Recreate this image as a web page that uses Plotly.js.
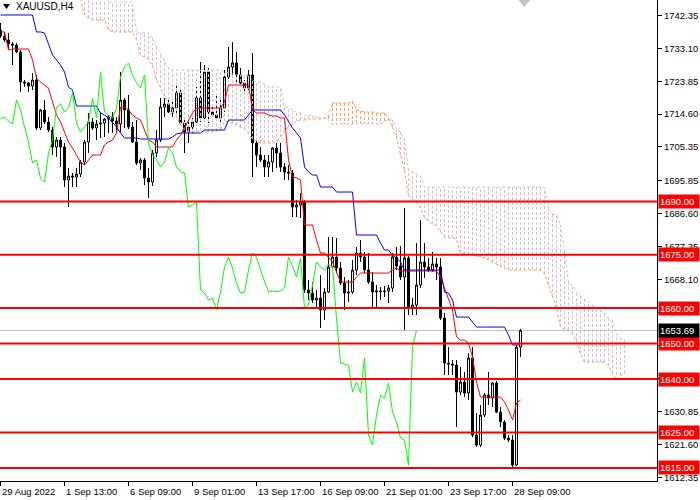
<!DOCTYPE html>
<html><head><meta charset="utf-8">
<script src="https://cdn.plot.ly/plotly-3.0.1.min.js"></script>
<style>html,body{margin:0;padding:0;background:#fff}#chart{width:700px;height:500px}</style>
</head><body><div id="chart"></div>
<script>
// ---- XAUUSD H4 candles (bar index 0 = 29 Aug 2022 21:00) ----
const opens = [
1738.26,1736.57,1735.44,1734.31,1734.03,1732.07,1723.62,1723.34,1722.49,1724.18,
1710.67,1715.74,1712.36,1710.11,1705.32,1707.29,1705.32,1696.03,1697.16,1696.88,
1697.72,1701.10,1706.73,1712.36,1710.67,1711.79,1712.07,1713.20,1713.77,1712.64,
1711.79,1718.55,1715.74,1710.95,1706.73,1700.82,1701.66,1696.60,1695.47,1703.64,
1707.29,1716.58,1717.42,1715.18,1716.30,1720.53,1712.07,1709.55,1710.95,1712.36,
1719.12,1713.49,1726.44,1715.18,1714.33,1713.49,1716.30,1725.03,1727.84,1728.97,
1725.59,1723.34,1721.93,1725.59,1706.45,1703.07,1701.66,1699.69,1701.10,1705.04,
1703.64,1699.69,1698.29,1698.01,1688.43,1688.99,1689.84,1665.07,1664.23,1662.25,
1662.81,1659.44,1664.51,1671.54,1674.36,1671.26,1667.04,1664.23,1664.51,1670.70,
1675.49,1674.36,1670.70,1667.32,1664.51,1664.79,1664.60,1664.79,1665.63,1674.36,
1671.82,1668.73,1674.07,1660.00,1660.84,1666.48,1672.95,1671.54,1670.70,1672.39,
1671.54,1657.18,1644.52,1644.23,1643.95,1636.36,1639.17,1636.08,1645.92,1624.25,
1621.44,1629.88,1635.51,1634.67,1638.89,1630.72,1627.91,1623.40,1622.84,1615.81,
1649.02];
const highs = [
1740.23,1737.70,1737.42,1734.88,1734.60,1732.63,1724.18,1723.62,1726.16,1725.59,
1716.02,1718.55,1713.77,1710.95,1708.13,1708.13,1706.45,1699.41,1698.01,1699.41,
1701.66,1707.29,1714.90,1713.49,1712.92,1715.18,1713.49,1714.33,1715.18,1713.77,
1726.44,1719.12,1719.96,1712.36,1712.92,1702.23,1702.23,1699.41,1704.48,1710.11,
1719.12,1719.12,1719.12,1717.99,1722.78,1722.21,1712.92,1712.36,1713.49,1722.21,
1729.25,1728.40,1727.56,1716.58,1720.53,1719.40,1727.00,1733.47,1734.88,1732.07,
1727.56,1724.18,1727.00,1731.79,1707.29,1705.32,1703.07,1703.07,1705.32,1706.45,
1706.45,1700.82,1700.25,1698.85,1690.40,1692.37,1690.40,1667.88,1667.32,1665.07,
1669.29,1665.63,1679.99,1679.99,1679.70,1672.95,1668.73,1667.88,1673.51,1677.16,
1679.14,1675.77,1675.49,1670.13,1666.48,1665.91,1666.20,1666.48,1675.49,1677.16,
1677.44,1688.15,1674.64,1662.81,1678.30,1684.77,1678.30,1674.07,1675.77,1674.07,
1674.07,1658.59,1649.02,1645.36,1645.36,1643.39,1641.99,1647.34,1649.02,1630.44,
1632.69,1636.08,1641.99,1639.17,1639.45,1632.12,1628.47,1624.25,1624.25,1649.59,
1654.10];
const lows = [
1736.01,1734.88,1732.63,1728.40,1731.79,1720.81,1722.21,1720.81,1721.37,1710.11,
1710.11,1711.79,1709.55,1703.07,1702.51,1699.69,1694.06,1688.43,1694.06,1694.06,
1696.88,1700.25,1703.64,1710.11,1707.29,1707.86,1708.13,1709.27,1709.27,1709.55,
1709.55,1710.67,1710.39,1706.45,1700.25,1698.85,1694.62,1690.96,1694.34,1702.51,
1706.73,1713.77,1714.90,1713.77,1714.90,1711.51,1703.64,1706.45,1709.27,1711.79,
1712.36,1712.36,1712.07,1713.77,1712.92,1712.36,1715.18,1724.46,1725.03,1723.62,
1722.78,1720.81,1721.37,1696.88,1699.69,1701.10,1696.88,1696.88,1698.29,1699.41,
1698.29,1696.03,1696.03,1685.62,1685.62,1685.34,1664.23,1662.25,1661.41,1660.28,
1654.37,1656.62,1664.23,1671.26,1669.85,1666.48,1659.44,1661.69,1663.94,1669.29,
1672.95,1669.85,1666.76,1660.00,1660.28,1662.25,1663.10,1661.41,1664.51,1670.70,
1667.88,1653.81,1658.03,1658.03,1658.03,1665.63,1668.45,1670.13,1670.13,1667.88,
1656.62,1641.14,1641.14,1641.14,1626.50,1635.51,1634.95,1634.10,1623.69,1620.87,
1620.87,1629.32,1632.69,1632.12,1630.44,1626.50,1622.84,1622.28,1614.96,1615.53,
1646.21];
const closes = [
1736.57,1735.44,1734.31,1734.03,1732.07,1723.62,1723.34,1722.49,1724.18,1710.67,
1715.74,1712.36,1710.11,1705.32,1707.29,1705.32,1696.03,1697.16,1696.88,1697.72,
1701.10,1706.73,1712.36,1710.67,1711.79,1712.07,1713.20,1713.77,1712.64,1711.79,
1718.55,1715.74,1710.95,1706.73,1700.82,1701.66,1696.60,1695.47,1703.64,1707.29,
1716.58,1717.42,1715.18,1716.30,1720.53,1712.07,1709.55,1710.95,1712.36,1719.12,
1713.49,1726.44,1715.18,1714.33,1713.49,1716.30,1725.03,1727.84,1728.97,1725.59,
1723.34,1721.93,1725.59,1706.45,1703.07,1701.66,1699.69,1701.10,1705.04,1703.64,
1699.69,1698.29,1698.01,1688.43,1688.99,1689.84,1665.07,1664.23,1662.25,1662.81,
1659.44,1664.51,1671.54,1674.36,1671.26,1667.04,1664.23,1664.51,1670.70,1675.49,
1674.36,1670.70,1667.32,1664.51,1664.79,1664.60,1664.79,1665.63,1674.36,1671.82,
1668.73,1674.07,1660.00,1660.84,1666.48,1672.95,1671.54,1670.70,1672.39,1671.54,
1657.18,1644.52,1644.23,1643.95,1636.36,1639.17,1636.08,1645.92,1624.25,1621.44,
1629.88,1635.51,1634.67,1638.89,1630.72,1627.91,1623.40,1622.84,1615.81,1649.02,
1653.69];

// ---- Ichimoku lines ----
const tenkan = [
1737.70,1737.70,1732.63,1732.91,1732.91,1732.91,1732.91,1732.91,1729.81,1724.74,
1723.62,1722.78,1721.93,1717.99,1714.33,1712.36,1709.55,1706.73,1705.04,1703.07,
1701.10,1700.25,1701.66,1703.07,1703.07,1703.07,1705.88,1706.73,1707.29,1709.27,
1716.58,1716.58,1715.74,1714.33,1713.49,1712.92,1710.11,1707.29,1706.73,1705.32,
1705.32,1705.32,1705.32,1705.32,1707.29,1708.70,1710.67,1712.92,1714.90,1716.30,
1716.30,1716.30,1716.30,1716.30,1716.30,1716.30,1717.99,1722.78,1722.78,1722.78,
1722.78,1722.78,1722.78,1715.74,1714.90,1714.90,1714.90,1714.33,1714.05,1714.05,
1713.49,1713.49,1701.66,1696.88,1696.60,1696.03,1683.36,1683.36,1683.36,1679.14,
1675.49,1675.49,1674.07,1672.95,1670.13,1667.32,1667.32,1667.32,1667.32,1668.73,
1669.85,1669.85,1669.85,1669.85,1669.85,1669.85,1669.85,1669.85,1670.70,1671.26,
1670.42,1670.42,1670.42,1670.42,1670.42,1670.42,1670.42,1670.42,1670.42,1670.42,
1668.73,1665.63,1662.25,1659.44,1651.84,1650.99,1650.99,1650.15,1646.21,1639.17,
1634.95,1634.95,1634.95,1634.95,1634.95,1634.95,1633.54,1631.29,1628.47,1633.26,
1634.10];
const kijun = [
1742.48,1742.48,1742.48,1742.48,1742.48,1742.48,1742.48,1742.48,1742.48,1737.70,
1737.70,1737.42,1734.03,1731.22,1729.81,1728.40,1726.44,1722.21,1721.37,1716.86,
1716.86,1716.86,1716.86,1716.86,1716.86,1714.90,1714.33,1713.49,1712.36,1710.95,
1709.27,1707.86,1707.86,1707.86,1707.86,1707.57,1707.57,1707.57,1707.57,1707.57,
1707.57,1707.57,1707.57,1708.13,1708.98,1709.27,1709.27,1709.27,1709.27,1709.27,
1709.27,1710.11,1710.11,1710.11,1710.11,1710.11,1710.11,1712.92,1712.92,1712.92,
1712.92,1712.92,1714.33,1715.74,1715.74,1715.74,1715.74,1715.74,1715.74,1715.74,
1715.74,1714.33,1712.36,1710.67,1709.27,1707.86,1699.69,1698.29,1697.44,1697.44,
1694.06,1694.06,1694.06,1694.06,1692.65,1692.65,1692.65,1692.65,1692.65,1680.55,
1680.55,1680.55,1680.55,1680.55,1680.55,1678.30,1676.33,1676.33,1674.92,1674.07,
1672.95,1670.70,1670.70,1670.70,1670.70,1670.70,1670.70,1670.70,1670.70,1670.70,
1670.70,1664.51,1664.23,1662.25,1657.46,1657.46,1657.46,1657.46,1656.06,1654.65,
1654.65,1654.65,1654.65,1654.65,1654.65,1654.65,1654.65,1652.40,1649.59,1649.59,
1649.59];
// Senkou spans, drawn from bar index spanStart onward (already displaced forward)
const spanStart = 18;
const spanA = [
1752.33,1749.52,1746.70,1742.48,1741.63,1741.07,1741.07,1741.07,1741.07,1738.26,
1737.70,1737.70,1737.70,1737.70,1737.70,1737.70,1735.44,1731.22,1730.66,1730.09,
1728.12,1724.18,1721.93,1719.68,1717.14,1715.18,1714.05,1711.51,1710.11,1709.55,
1709.55,1709.83,1709.83,1709.55,1709.55,1709.55,1709.83,1710.11,1712.64,1712.36,
1712.07,1711.51,1710.95,1710.39,1708.98,1707.57,1707.01,1706.45,1706.45,1706.45,
1706.45,1706.73,1708.13,1710.11,1710.95,1711.79,1712.64,1712.92,1712.92,1713.20,
1713.20,1713.20,1713.20,1713.49,1714.05,1717.71,1717.71,1717.71,1717.71,1717.71,
1718.27,1715.74,1715.46,1715.18,1715.18,1715.18,1714.90,1714.90,1714.90,1713.49,
1710.95,1708.13,1703.07,1698.85,1691.53,1690.68,1689.56,1688.15,1685.34,1684.49,
1683.65,1683.08,1681.39,1679.99,1679.70,1679.70,1679.42,1675.49,1675.20,1675.20,
1674.92,1674.64,1674.36,1674.07,1673.51,1672.95,1672.39,1671.82,1671.26,1670.70,
1670.70,1670.70,1670.70,1670.70,1670.70,1670.70,1670.70,1670.70,1669.57,1666.48,
1663.10,1660.00,1654.65,1654.09,1653.81,1652.68,1650.71,1647.05,1644.80,1644.80,
1644.80,1644.80,1644.80,1644.80,1643.67,1641.70,1639.73,1641.14,1641.70];
const spanB = [
1755.15,1755.15,1755.15,1755.15,1755.15,1755.15,1755.15,1755.15,1755.15,1746.14,
1746.14,1746.14,1746.14,1746.14,1746.14,1746.14,1737.42,1737.42,1737.42,1737.42,
1736.01,1733.47,1731.79,1729.81,1727.56,1727.00,1727.00,1727.00,1727.00,1727.00,
1727.00,1727.00,1727.00,1727.00,1727.00,1727.00,1727.00,1727.00,1726.44,1726.16,
1725.87,1725.59,1725.59,1725.59,1725.31,1724.18,1723.62,1723.62,1723.05,1722.21,
1722.21,1722.21,1722.21,1716.58,1716.30,1715.74,1715.18,1714.90,1714.33,1714.33,
1714.05,1713.77,1713.49,1713.49,1712.92,1711.79,1711.79,1711.79,1711.79,1711.79,
1711.79,1711.79,1711.79,1711.79,1711.79,1711.79,1711.79,1711.79,1712.64,1712.92,
1712.92,1710.11,1709.55,1707.29,1698.85,1698.29,1697.72,1697.16,1694.06,1694.06,
1694.06,1694.06,1694.06,1694.06,1694.06,1694.06,1694.06,1694.06,1694.06,1694.06,
1694.06,1694.06,1694.06,1694.06,1694.06,1694.06,1694.06,1694.06,1694.06,1694.06,
1694.06,1694.06,1694.06,1694.06,1694.06,1694.06,1694.06,1694.06,1693.78,1688.15,
1686.46,1686.18,1683.36,1676.33,1667.32,1665.91,1664.79,1663.38,1662.53,1661.69,
1660.84,1660.00,1659.44,1658.59,1657.18,1656.62,1652.68,1651.55,1651.27];
const chikouShift = 26;

// ---- axis labels & levels ----
const xTickIdx = [0, 16, 32, 48, 64, 80, 96, 112, 128];
const xTickText = ['29 Aug 2022','1 Sep 13:00','6 Sep 09:00','9 Sep 01:00','13 Sep 17:00',
                   '16 Sep 09:00','21 Sep 01:00','23 Sep 17:00','28 Sep 09:00'];
const yTickVals = [1612.35,1621.60,1630.85,1640.10,1649.35,1658.85,1668.10,1677.35,
                   1686.60,1695.85,1705.35,1714.60,1723.85,1733.10,1742.35];
const levels = [1690, 1675, 1660, 1650, 1640, 1625, 1615];
const currentPrice = 1653.69;
const symbolLabel = 'XAUUSD,H4';

// ---- build traces ----
const barIdx = opens.map((_, i) => i);
const FONT = 'Liberation Sans, Arial, sans-serif';

const hatchThistle = {x: [], y: []}, hatchSandy = {x: [], y: []};
spanA.forEach((a, j) => {
  const k = spanStart + j, b = spanB[j];
  const t = a > b ? hatchSandy : hatchThistle;
  t.x.push(k, k, null); t.y.push(a, b, null);
});
const spanX = spanA.map((_, j) => spanStart + j);
const chikouY = closes.slice(chikouShift);
const chikouX = chikouY.map((_, j) => j);

const traces = [
  {type: 'candlestick', x: barIdx, open: opens, high: highs, low: lows, close: closes,
   increasing: {line: {color: '#000', width: 1}, fillcolor: '#fff'},
   decreasing: {line: {color: '#000', width: 1}, fillcolor: '#000'},
   whiskerwidth: 0, hoverinfo: 'skip', showlegend: false},
  {type: 'scatter', mode: 'lines', x: hatchThistle.x, y: hatchThistle.y,
   line: {color: '#D8BFD8', width: 1, dash: '3px,2px'}, hoverinfo: 'skip', showlegend: false},
  {type: 'scatter', mode: 'lines', x: hatchSandy.x, y: hatchSandy.y,
   line: {color: '#F4A460', width: 1, dash: '3px,2px'}, hoverinfo: 'skip', showlegend: false},
  {type: 'scatter', mode: 'lines', x: spanX, y: spanA,
   line: {color: '#F4A460', width: 1, dash: '3px,2px'}, hoverinfo: 'skip', showlegend: false},
  {type: 'scatter', mode: 'lines', x: spanX, y: spanB,
   line: {color: '#D8BFD8', width: 1, dash: '3px,2px'}, hoverinfo: 'skip', showlegend: false},
  {type: 'scatter', mode: 'lines', x: barIdx, y: tenkan,
   line: {color: '#FF0000', width: 1}, hoverinfo: 'skip', showlegend: false},
  {type: 'scatter', mode: 'lines', x: barIdx, y: kijun,
   line: {color: '#0000FF', width: 1}, hoverinfo: 'skip', showlegend: false},
  {type: 'scatter', mode: 'lines', x: chikouX, y: chikouY,
   line: {color: '#00FF00', width: 1}, hoverinfo: 'skip', showlegend: false}
];

const shapes = [
  {type: 'line', xref: 'paper', yref: 'y', x0: 0, x1: 1, y0: currentPrice, y1: currentPrice,
   line: {color: '#C0C0C0', width: 1}, layer: 'below'}
];
levels.forEach(v => shapes.push({type: 'line', xref: 'paper', yref: 'y', x0: 0, x1: 1,
  y0: v, y1: v, line: {color: '#FF0000', width: 2}}));
// symbol-menu triangle and chart-shift marker
shapes.push({type: 'path', xref: 'paper', yref: 'paper',
  path: 'M 0.0046 0.9917 L 0.0152 0.9917 L 0.0099 0.9813 Z', fillcolor: '#000', line: {width: 0}});
shapes.push({type: 'path', xref: 'paper', yref: 'paper',
  path: 'M 0.789 1 L 0.807 1 L 0.798 0.986 Z', fillcolor: '#C0C0C0', line: {width: 0}});

const annotations = [];
levels.forEach(v => annotations.push({xref: 'paper', yref: 'y', x: 1, y: v, xanchor: 'left',
  yanchor: 'middle', xshift: 1, showarrow: false, text: v.toFixed(2), bgcolor: '#FF0000',
  font: {family: FONT, size: 9.5, color: '#fff'}, width: 38, align: 'left', borderpad: 1}));
annotations.push({xref: 'paper', yref: 'y', x: 1, y: currentPrice, xanchor: 'left',
  yanchor: 'middle', xshift: 1, showarrow: false, text: currentPrice.toFixed(2), bgcolor: '#000',
  font: {family: FONT, size: 9.5, color: '#fff'}, width: 38, align: 'left', borderpad: 1});
annotations.push({xref: 'paper', yref: 'paper', x: 0.0213, y: 1, xanchor: 'left', yanchor: 'top',
  yshift: 1, showarrow: false, text: symbolLabel, font: {family: FONT, size: 10, color: '#000'}});
// date labels, left-aligned at their tick marks (MT4 style)
xTickIdx.forEach((v, j) => annotations.push({xref: 'x', yref: 'paper', x: v, y: 0,
  xanchor: 'left', yanchor: 'top', xshift: -1, yshift: -3, showarrow: false,
  text: xTickText[j], font: {family: FONT, size: 9.5, color: '#000'}}));

const layout = {
  width: 700, height: 500,
  margin: {l: 0, r: 43, t: 0, b: 19, pad: 0},
  paper_bgcolor: '#fff', plot_bgcolor: '#fff',
  showlegend: false, hovermode: false, dragmode: false,
  xaxis: {range: [-0.125, 164.125], showgrid: false, zeroline: false,
    showline: true, linecolor: '#000', linewidth: 1,
    ticks: 'outside', ticklen: 4, tickcolor: '#000', tickwidth: 1,
    tickmode: 'array', tickvals: xTickIdx, showticklabels: false,
    rangeslider: {visible: false}, fixedrange: true},
  yaxis: {side: 'right', range: [1611.32, 1746.70], showgrid: false, zeroline: false,
    showline: true, linecolor: '#000', linewidth: 1,
    ticks: 'outside', ticklen: 4, tickcolor: '#000', tickwidth: 1,
    tickmode: 'array', tickvals: yTickVals, tickformat: '.2f',
    tickfont: {family: FONT, size: 9.5, color: '#000'}, fixedrange: true},
  shapes: shapes,
  annotations: annotations
};

Plotly.newPlot('chart', traces, layout, {staticPlot: true, displayModeBar: false});
</script>
</body></html>
